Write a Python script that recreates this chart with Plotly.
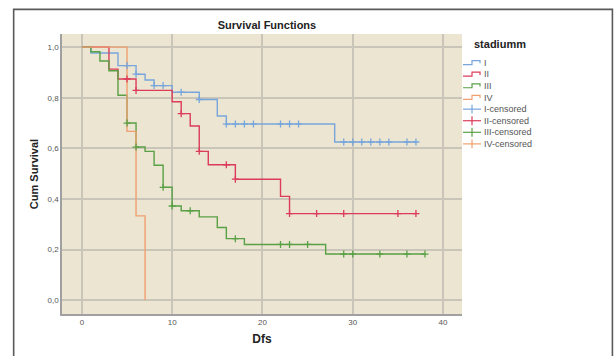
import plotly.graph_objects as go
import numpy as np

# ---- data ----
groups = ["I", "II", "III", "IV"]
colors = ["#78A6DC", "#DC3C5A", "#5AA046", "#F0A070"]

times_I = [0, 1, 4, 6, 7, 8, 10, 13, 15, 16, 28, 37]
surv_I = [1.0, 0.977, 0.927, 0.893, 0.870, 0.848, 0.822, 0.793, 0.728, 0.696, 0.625, 0.625]
cens_I = [5, 6, 8, 9, 11, 13, 16, 17, 18, 19, 22, 23, 24, 29, 30, 31, 32, 33, 34, 36, 37]

times_II = [0, 3, 4, 6, 10, 11, 12, 13, 14, 17, 22, 23, 37]
surv_II = [1.0, 0.913, 0.874, 0.829, 0.784, 0.737, 0.688, 0.588, 0.535, 0.478, 0.410, 0.342, 0.342]
cens_II = [5, 6, 11, 13, 16, 17, 23, 26, 29, 35, 37]

times_III = [0, 1, 2, 3, 4, 5, 6, 7, 8, 9, 10, 11, 13, 15, 16, 18, 27, 38]
surv_III = [1.0, 0.982, 0.945, 0.907, 0.810, 0.700, 0.605, 0.588, 0.533, 0.446, 0.372,
            0.353, 0.329, 0.287, 0.243, 0.220, 0.182, 0.182]
cens_III = [5, 6, 9, 10, 12, 17, 22, 23, 25, 29, 30, 33, 36, 38]

times_IV = [0, 5, 6, 7]
surv_IV = [1.0, 0.667, 0.333, 0.0]
cens_IV = []

x_ticks = [0, 10, 20, 30, 40]
y_ticks = [0.0, 0.2, 0.4, 0.6, 0.8, 1.0]

series = [
    (times_I, surv_I, cens_I),
    (times_II, surv_II, cens_II),
    (times_III, surv_III, cens_III),
    (times_IV, surv_IV, cens_IV),
]


def step_value(ts, ss, t):
    idx = np.searchsorted(np.array(ts), t, side="right") - 1
    return ss[max(idx, 0)]


fig = go.Figure()
for name, col, (ts, ss, cs) in zip(groups, colors, series):
    fig.add_trace(go.Scatter(x=ts, y=ss, mode="lines", line=dict(color=col, width=1.4, shape="hv"),
                             name=name, showlegend=False))
for name, col, (ts, ss, cs) in zip(groups, colors, series):
    fig.add_trace(go.Scatter(x=cs, y=[step_value(ts, ss, c) for c in cs], mode="markers",
                             marker=dict(symbol="cross-thin", size=5, line=dict(color=col, width=1.3)),
                             name=name + "-censored", showlegend=False))

# ---- geometry (pixels) ----
W, H = 614, 356
L, R, T, B = 62.3, 462.0, 34.3, 316.0
pw, ph = R - L, B - T


def px(x):
    return (x - L) / pw


def py(y):
    return (B - y) / ph


shapes = []
annotations = []
# outer frame
shapes.append(dict(type="rect", xref="paper", yref="paper", x0=px(14), x1=px(612.3), y0=py(9.5), y1=py(365),
                   line=dict(color="#5a5a5a", width=1.6), fillcolor="rgba(0,0,0,0)", layer="below"))

# manual legend
annotations.append(dict(xref="paper", yref="paper", x=px(471.5), y=py(44.5), xanchor="left", yanchor="middle",
                        text="<b>stadiumm</b>", showarrow=False, font=dict(size=11, color="#222")))
labels = groups + [g + "-censored" for g in groups]
row0, dy = 63.3, 11.65
for i, lab in enumerate(labels):
    yc = row0 + i * dy
    col = colors[i % 4]
    if i < 4:
        path = (f"M {px(463)},{py(yc + 1.8)} L {px(472)},{py(yc + 1.8)} L {px(472)},{py(yc - 2.2)} "
                f"L {px(480)},{py(yc - 2.2)} L {px(480)},{py(yc + 0.5)}")
        shapes.append(dict(type="path", xref="paper", yref="paper", path=path,
                           line=dict(color=col, width=1.2)))
    else:
        shapes.append(dict(type="line", xref="paper", yref="paper", x0=px(463), x1=px(481),
                           y0=py(yc), y1=py(yc), line=dict(color=col, width=1.2)))
        shapes.append(dict(type="line", xref="paper", yref="paper", x0=px(472), x1=px(472),
                           y0=py(yc - 4.5), y1=py(yc + 4.5), line=dict(color=col, width=1.2)))
    annotations.append(dict(xref="paper", yref="paper", x=px(482), y=py(yc), xanchor="left", yanchor="middle",
                            text=lab, showarrow=False, font=dict(size=9, color="#555")))

fig.update_layout(
    width=W, height=H,
    margin=dict(l=L, r=W - R, t=T, b=H - B, pad=0),
    paper_bgcolor="white",
    plot_bgcolor="#EBE5D1",
    separators=",.",
    font=dict(family="Liberation Sans, Arial, sans-serif", color="#333"),
    title=dict(text="<b>Survival Functions</b>", x=267 / W, xanchor="center",
               y=1 - 25 / H, yanchor="middle", yref="container", font=dict(size=11, color="#222")),
    shapes=shapes,
    annotations=annotations,
    showlegend=False,
)
fig.update_xaxes(range=[-2.2, 42.1], tickvals=x_ticks, ticks="", showgrid=True, gridcolor="#C9C5B9",
                 gridwidth=1.5, zeroline=False, showline=True, linecolor="#A0A0A0", linewidth=1.5,
                 tickfont=dict(size=8, color="#555"),
                 title=dict(text="<b>Dfs</b>", font=dict(size=12, color="#222"), standoff=8))
fig.update_yaxes(range=[-0.055, 1.052], tickvals=y_ticks, tickformat=".1f", ticks="", showgrid=True,
                 gridcolor="#C9C5B9", gridwidth=1.5, zeroline=False, showline=True, linecolor="#A0A0A0",
                 linewidth=1.5, tickfont=dict(size=8, color="#555"),
                 title=dict(text="<b>Cum Survival</b>", font=dict(size=11, color="#222"), standoff=7))

fig.write_html("out.html")
